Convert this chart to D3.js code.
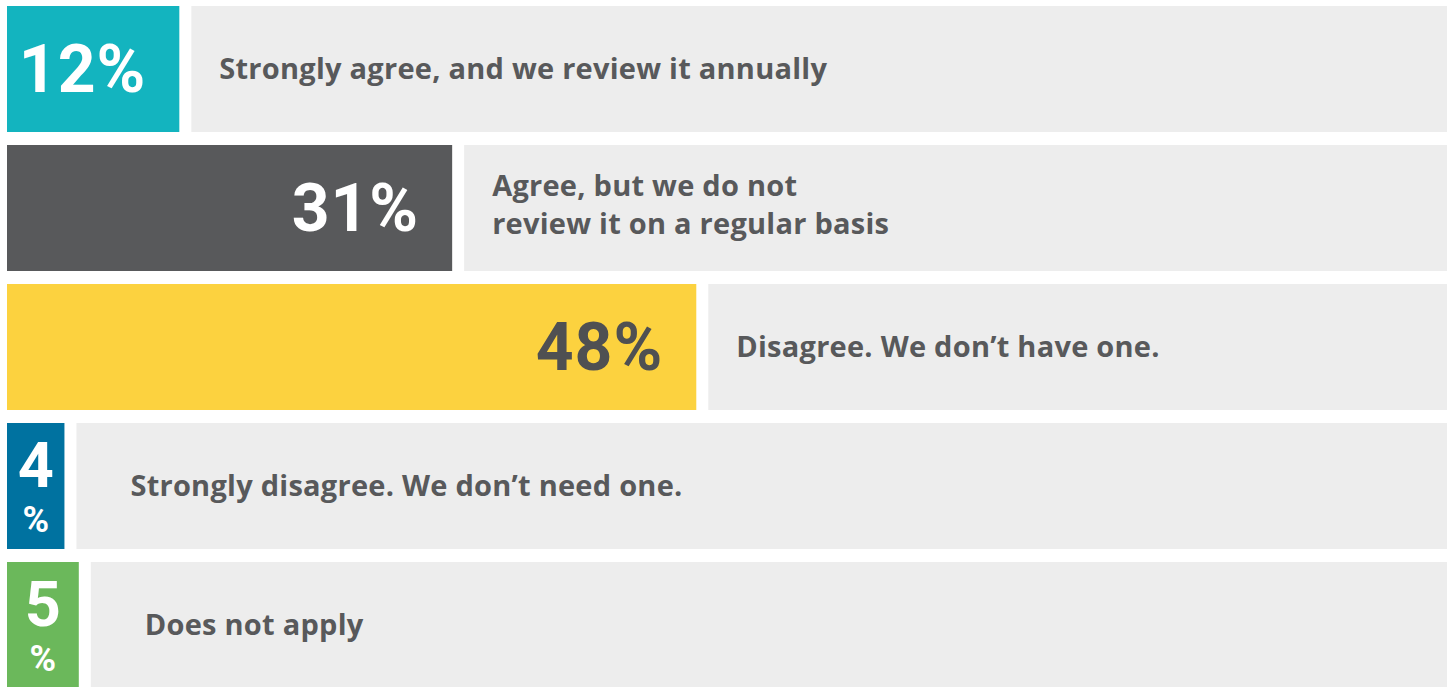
<!DOCTYPE html>
<html>
<head>
<meta charset="utf-8">
<script src="https://cdn.jsdelivr.net/npm/d3@7"></script>
<style>
  html, body { margin: 0; padding: 0; background: #fff; }
  svg { display: block; font-family: "Open Sans", Roboto, sans-serif; }
</style>
</head>
<body>
<div class="chart"></div>
<script>
// survey answers, top to bottom
const categories = [
  'Strongly agree, and we review it annually',
  'Agree, but we do not review it on a regular basis',
  'Disagree. We don\u2019t have one.',
  'Strongly disagree. We don\u2019t need one.',
  'Does not apply'
];
const values = [12, 31, 48, 4, 5];
// answer text broken into lines as shown
const labelLines = [
  ['Strongly agree, and we review it annually'],
  ['Agree, but we do not', 'review it on a regular basis'],
  ['Disagree. We don\u2019t have one.'],
  ['Strongly disagree. We don\u2019t need one.'],
  ['Does not apply']
];
const barColors = ['#13b4bf', '#58595b', '#fcd23f', '#0072a0', '#6bb85b'];
const valueColors = ['#ffffff', '#ffffff', '#4f5052', '#ffffff', '#ffffff'];

const width = 1453;
const height = 687;

const svg = d3.select('.chart')
  .append('svg')
  .attr('width', width)
  .attr('height', height);

const x = d3.scaleLinear()
  .domain([0, 100])
  .range([7, 7 + 1436]);

const y = d3.scaleBand()
  .domain(categories)
  .range([6, 688])
  .paddingInner(13 / 139)
  .paddingOuter(0);

const gap = 12;
const rightEdge = 1447;

const rows = categories.map((c, i) => ({
  cat: c,
  value: values[i],
  lines: labelLines[i],
  color: barColors[i],
  textColor: valueColors[i],
  narrow: values[i] < 10
}));

const row = svg.selectAll('g.row')
  .data(rows)
  .enter().append('g')
  .attr('class', 'row')
  .attr('transform', (d) => `translate(0,${y(d.cat)})`);

// grey panel behind the answer text
row.append('rect')
  .attr('x', (d) => x(d.value) + gap)
  .attr('width', (d) => rightEdge - x(d.value) - gap)
  .attr('height', y.bandwidth())
  .attr('fill', '#ededed');

// value bar
row.append('rect')
  .attr('x', x(0))
  .attr('width', (d) => x(d.value) - x(0))
  .attr('height', y.bandwidth())
  .attr('fill', (d) => d.color);

const mid = y.bandwidth() / 2;

// wide bars: value right aligned on one line
row.filter((d) => !d.narrow)
  .append('text')
  .attr('x', (d) => x(d.value) - 33)
  .attr('y', mid + 23)
  .attr('text-anchor', 'end')
  .style('font-family', 'Roboto, sans-serif')
  .attr('font-size', 66)
  .attr('font-weight', 700)
  .attr('letter-spacing', 1)
  .attr('fill', (d) => d.textColor)
  .text((d) => d.value + '%');

// narrow bars: number above a smaller percent sign, one text element
row.filter((d) => d.narrow)
  .append('text')
  .attr('text-anchor', 'middle')
  .style('font-family', 'Roboto, sans-serif')
  .attr('font-weight', 700)
  .attr('fill', (d) => d.textColor)
  .each(function(d) {
    const t = d3.select(this);
    const cx = (x(0) + x(d.value)) / 2;
    t.append('tspan')
      .attr('x', cx)
      .attr('y', mid + 1)
      .attr('font-size', 63)
      .text(d.value);
    t.append('tspan')
      .attr('x', cx)
      .attr('y', mid + 46)
      .attr('font-size', 36)
      .text('%');
  });

// answer text
const lineHeight = 38;
row.append('text')
  .attr('font-size', 29)
  .attr('font-weight', 700)
  .attr('letter-spacing', 0.25)
  .attr('fill', '#58595b')
  .each(function(d) {
    const t = d3.select(this);
    const n = d.lines.length - 1;
    const first = mid + 10 - n * (lineHeight / 2 + 3);
    d.lines.forEach((line, k) => {
      t.append('tspan')
        .attr('x', x(d.value) + gap + (d.narrow ? 54 : 28))
        .attr('y', first + k * lineHeight)
        .text(line);
    });
  });
</script>
</body>
</html>
